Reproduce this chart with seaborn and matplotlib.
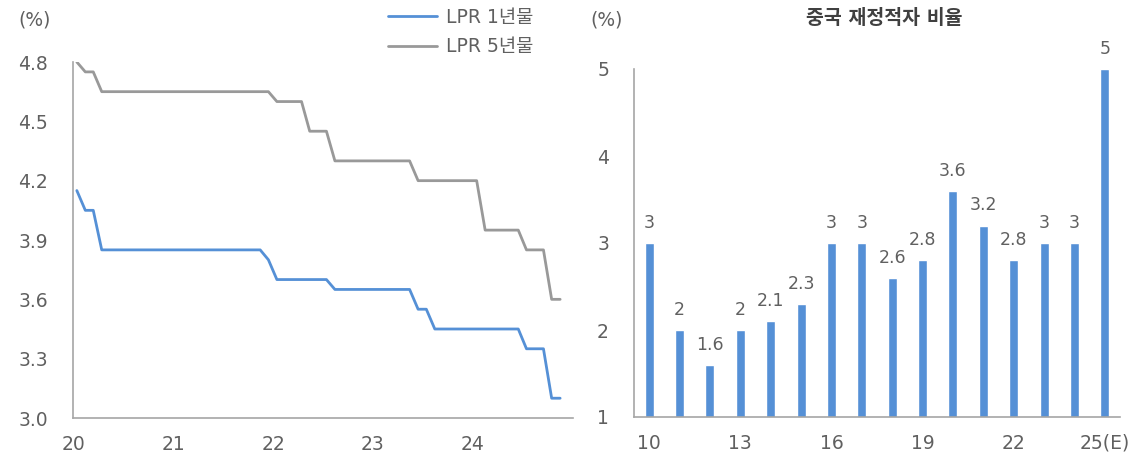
import matplotlib
matplotlib.use("Agg")
import matplotlib.pyplot as plt
import pandas as pd
import seaborn as sns

# ---- China loan prime rates, monthly fixings Jan 2020 - Nov 2024 (%) ----
lpr_1y = [
    4.15, 4.05, 4.05, 3.85, 3.85, 3.85, 3.85, 3.85, 3.85, 3.85, 3.85, 3.85,  # 2020
    3.85, 3.85, 3.85, 3.85, 3.85, 3.85, 3.85, 3.85, 3.85, 3.85, 3.85, 3.80,  # 2021
    3.70, 3.70, 3.70, 3.70, 3.70, 3.70, 3.70, 3.65, 3.65, 3.65, 3.65, 3.65,  # 2022
    3.65, 3.65, 3.65, 3.65, 3.65, 3.55, 3.55, 3.45, 3.45, 3.45, 3.45, 3.45,  # 2023
    3.45, 3.45, 3.45, 3.45, 3.45, 3.45, 3.35, 3.35, 3.35, 3.10, 3.10,        # 2024
]
lpr_5y = [
    4.80, 4.75, 4.75, 4.65, 4.65, 4.65, 4.65, 4.65, 4.65, 4.65, 4.65, 4.65,  # 2020
    4.65, 4.65, 4.65, 4.65, 4.65, 4.65, 4.65, 4.65, 4.65, 4.65, 4.65, 4.65,  # 2021
    4.60, 4.60, 4.60, 4.60, 4.45, 4.45, 4.45, 4.30, 4.30, 4.30, 4.30, 4.30,  # 2022
    4.30, 4.30, 4.30, 4.30, 4.30, 4.20, 4.20, 4.20, 4.20, 4.20, 4.20, 4.20,  # 2023
    4.20, 3.95, 3.95, 3.95, 3.95, 3.95, 3.85, 3.85, 3.85, 3.60, 3.60,        # 2024
]
lpr_start = "2020-01-01"
lpr_labels = ["LPR 1년물", "LPR 5년물"]
lpr_year_ticks = ["2020-01-01", "2021-01-01", "2022-01-01", "2023-01-01", "2024-01-01", "2025-01-01"]
lpr_year_labels = ["20", "21", "22", "23", "24", ""]
lpr_y_ticks = [3.0, 3.3, 3.6, 3.9, 4.2, 4.5, 4.8]

# ---- China fiscal deficit ratio (% of GDP), 2010 - 2025E ----
deficit_years = ["2010", "2011", "2012", "2013", "2014", "2015", "2016", "2017",
                 "2018", "2019", "2020", "2021", "2022", "2023", "2024", "2025(E)"]
deficit_ratio = [3, 2, 1.6, 2, 2.1, 2.3, 3, 3, 2.6, 2.8, 3.6, 3.2, 2.8, 3, 3, 5]
deficit_tick_pos = [0, 3, 6, 9, 12, 15]
deficit_tick_labels = ["10", "13", "16", "19", "22", "25(E)"]
deficit_y_ticks = [1, 2, 3, 4, 5]
deficit_title = "중국 재정적자 비율"

BLUE = "#5590d6"
GREY_LINE = "#999999"
TEXT = "#606060"
SPINE = "#a6a6a6"
FS = 13.5

sns.set_theme(style="white")
plt.rcParams["font.family"] = ["DejaVu Sans", "Noto Sans CJK KR"]

W, H = 1130, 453
fig = plt.figure(figsize=(W / 100, H / 100), dpi=100)

def fx(px):
    return px / W

def fy(py):
    return 1 - py / H

# ---------------- left panel: LPR lines ----------------
ax1 = fig.add_axes([fx(73), fy(418), fx(500), (418 - 62) / H])
dates = pd.date_range(lpr_start, periods=len(lpr_1y), freq="MS") + pd.Timedelta(days=14)
df = pd.DataFrame({"date": dates, "1y": lpr_1y, "5y": lpr_5y})
sns.lineplot(data=df, x="date", y="1y", ax=ax1, color=BLUE, linewidth=2.0, label=lpr_labels[0])
sns.lineplot(data=df, x="date", y="5y", ax=ax1, color=GREY_LINE, linewidth=2.0, label=lpr_labels[1])

ax1.set_xlim(pd.Timestamp(lpr_year_ticks[0]), pd.Timestamp(lpr_year_ticks[-1]))
ax1.set_ylim(lpr_y_ticks[0], lpr_y_ticks[-1])
ax1.set_xticks([pd.Timestamp(d) for d in lpr_year_ticks])
ax1.set_xticklabels(lpr_year_labels)
ax1.set_yticks(lpr_y_ticks)
ax1.set_yticklabels([f"{v:.1f}" for v in lpr_y_ticks])
ax1.set_xlabel("")
ax1.set_ylabel("")
ax1.tick_params(axis="x", direction="in", length=5, width=1, color=SPINE,
                labelsize=FS, labelcolor=TEXT, pad=12)
ax1.tick_params(axis="y", direction="in", length=4, width=1, color=SPINE,
                labelsize=FS, labelcolor=TEXT, pad=18)
for side in ("top", "right"):
    ax1.spines[side].set_visible(False)
for side in ("left", "bottom"):
    ax1.spines[side].set_color(SPINE)
    ax1.spines[side].set_linewidth(1.2)

ax1.legend(loc="upper left", bbox_to_anchor=(fx(371), fy(-9)), bbox_transform=fig.transFigure,
           frameon=False, fontsize=FS, handlelength=2.6, handletextpad=0.5,
           labelspacing=0.55, labelcolor=TEXT)
fig.text(fx(35), fy(20), "(%)", ha="center", va="center", fontsize=FS, color=TEXT)

# ---------------- right panel: deficit bars ----------------
ax2 = fig.add_axes([fx(634), fy(417), fx(486), (417 - 69) / H])
sns.barplot(x=deficit_years, y=deficit_ratio, ax=ax2, color=BLUE, saturation=1, width=0.3)
ax2.bar_label(ax2.containers[0], labels=[f"{v:g}" for v in deficit_ratio],
              padding=8, fontsize=12.5, color=TEXT)

ax2.set_xlim(-0.5, len(deficit_years) - 0.5)
ax2.set_ylim(deficit_y_ticks[0], deficit_y_ticks[-1])
ax2.set_xticks(deficit_tick_pos)
ax2.set_xticklabels(deficit_tick_labels)
ax2.set_xticks([-0.5, 4.5, 9.5, 14.5], minor=True)
ax2.set_yticks(deficit_y_ticks)
ax2.set_yticklabels([str(v) for v in deficit_y_ticks])
ax2.set_xlabel("")
ax2.set_ylabel("")
ax2.tick_params(axis="x", which="major", length=0, labelsize=FS, labelcolor=TEXT, pad=12)
ax2.tick_params(axis="x", which="minor", direction="in", length=5, width=1, color=SPINE)
ax2.tick_params(axis="y", direction="in", length=5, width=1, color=SPINE,
                labelsize=FS, labelcolor=TEXT, pad=18)
for side in ("top", "right"):
    ax2.spines[side].set_visible(False)
for side in ("left", "bottom"):
    ax2.spines[side].set_color(SPINE)
    ax2.spines[side].set_linewidth(1.2)

fig.text(fx(607), fy(20), "(%)", ha="center", va="center", fontsize=FS, color=TEXT)
fig.text(fx(884), fy(18), deficit_title, ha="center", va="center", fontsize=14,
         fontweight="bold", color="#404040")

fig.savefig("out.png", dpi=100)
